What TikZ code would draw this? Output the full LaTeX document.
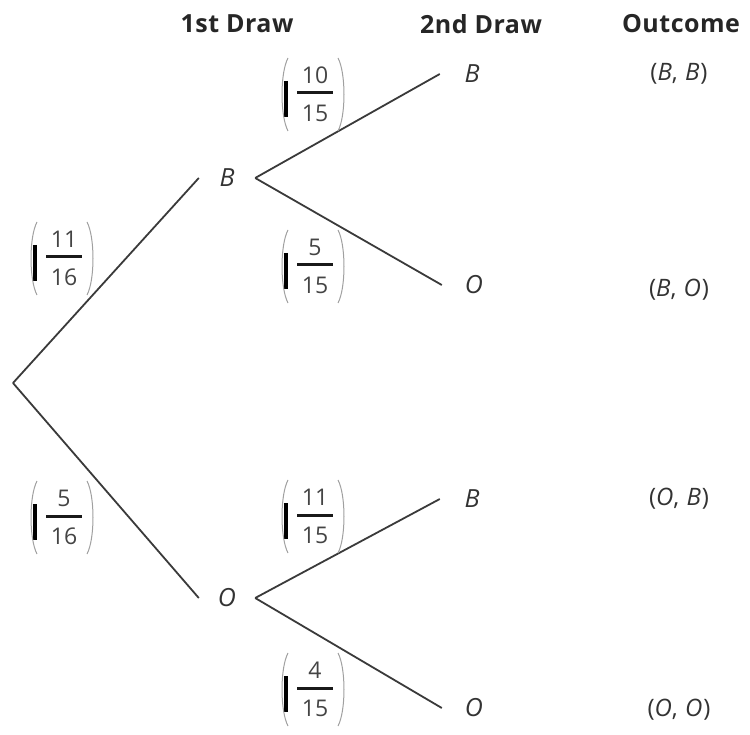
\documentclass[tikz,border=0pt]{standalone}
\usepackage{fontspec}
\setmainfont{Open Sans}
\definecolor{linecol}{HTML}{3A3A3A}
\definecolor{txtcol}{HTML}{333333}
\definecolor{digcol}{HTML}{444444}
\definecolor{parcol}{HTML}{A0A0A0}
\newcommand\problab[5]{%
  \begin{scope}[shift={(#2,#3)}]
    \node[digit] (#1n) at (1,-18) {#4};
    \node[digit] (#1d) at (1,20) {#5};
    \draw[fracbar] (-17,0) -- (19,0);
    \draw[markbar] (-28,-12) -- (-28,24);
    \draw[parenline] (-26,-35) .. controls (-34,-20) and (-34,23) .. (-26,38);
    \draw[parenline] (24,-35) .. controls (32,-20) and (32,23) .. (24,38);
  \end{scope}}
\begin{document}
\begin{tikzpicture}[x=1pt,y=-1pt,
  branch/.style={draw=linecol, line width=1.8pt},
  lvlone/.style={inner sep=0pt, minimum width=56pt, minimum height=22pt,
    font=\fontsize{25}{28}\selectfont\itshape, text=txtcol},
  lvltwo/.style={inner sep=0pt, minimum width=64pt, minimum height=22pt,
    font=\fontsize{25}{28}\selectfont\itshape, text=txtcol},
  outc/.style={inner sep=0pt, font=\fontsize{24}{28}\selectfont\addfontfeatures{LetterSpace=4}, text=txtcol},
  head/.style={inner sep=0pt, font=\fontsize{25}{28}\selectfont\bfseries\addfontfeatures{LetterSpace=2}, text=black!85},
  digit/.style={inner sep=0pt, font=\fontsize{23}{26}\selectfont, text=digcol},
  fracbar/.style={draw=black!90, line width=3pt},
  markbar/.style={draw=black, line width=3.5pt},
  parenline/.style={draw=parcol, line width=1pt}
]
\useasboundingbox (0,0) rectangle (750,735);

% headers
\node[head] (h1) at (237,24) {1st Draw};
\node[head] (h2) at (481,24) {2nd Draw};
\node[head] (h3) at (681,24) {Outcome};

% tree nodes
\coordinate (root) at (13,383);
\node[lvlone] (B1) at (227,178) {B};
\node[lvlone] (O1) at (227,598) {O};
\node[lvltwo] (BB) at (472,74) {B};
\node[lvltwo] (BO) at (474,285) {O};
\node[lvltwo] (OB) at (472,499) {B};
\node[lvltwo] (OO) at (474,708) {O};

% branches
\draw[branch] (root) -- (B1.west);
\draw[branch] (root) -- (O1.west);
\draw[branch] (B1.east) -- (BB.west);
\draw[branch] (B1.east) -- (BO.west);
\draw[branch] (O1.east) -- (OB.west);
\draw[branch] (O1.east) -- (OO.west);

% outcomes
\node[outc] (rBB) at (679,74) {(\textit{B}, \textit{B})};
\node[outc] (rBO) at (679,290) {(\textit{B}, \textit{O})};
\node[outc] (rOB) at (679,499) {(\textit{O}, \textit{B})};
\node[outc] (rOO) at (679,710) {(\textit{O}, \textit{O})};

% probabilities
\problab{pa}{63}{257}{11}{16}
\problab{pb}{63}{516}{5}{16}
\problab{pc}{314}{93}{10}{15}
\problab{pd}{314}{265}{5}{15}
\problab{pe}{314}{515}{11}{15}
\problab{pf}{314}{688}{4}{15}
\end{tikzpicture}
\end{document}
